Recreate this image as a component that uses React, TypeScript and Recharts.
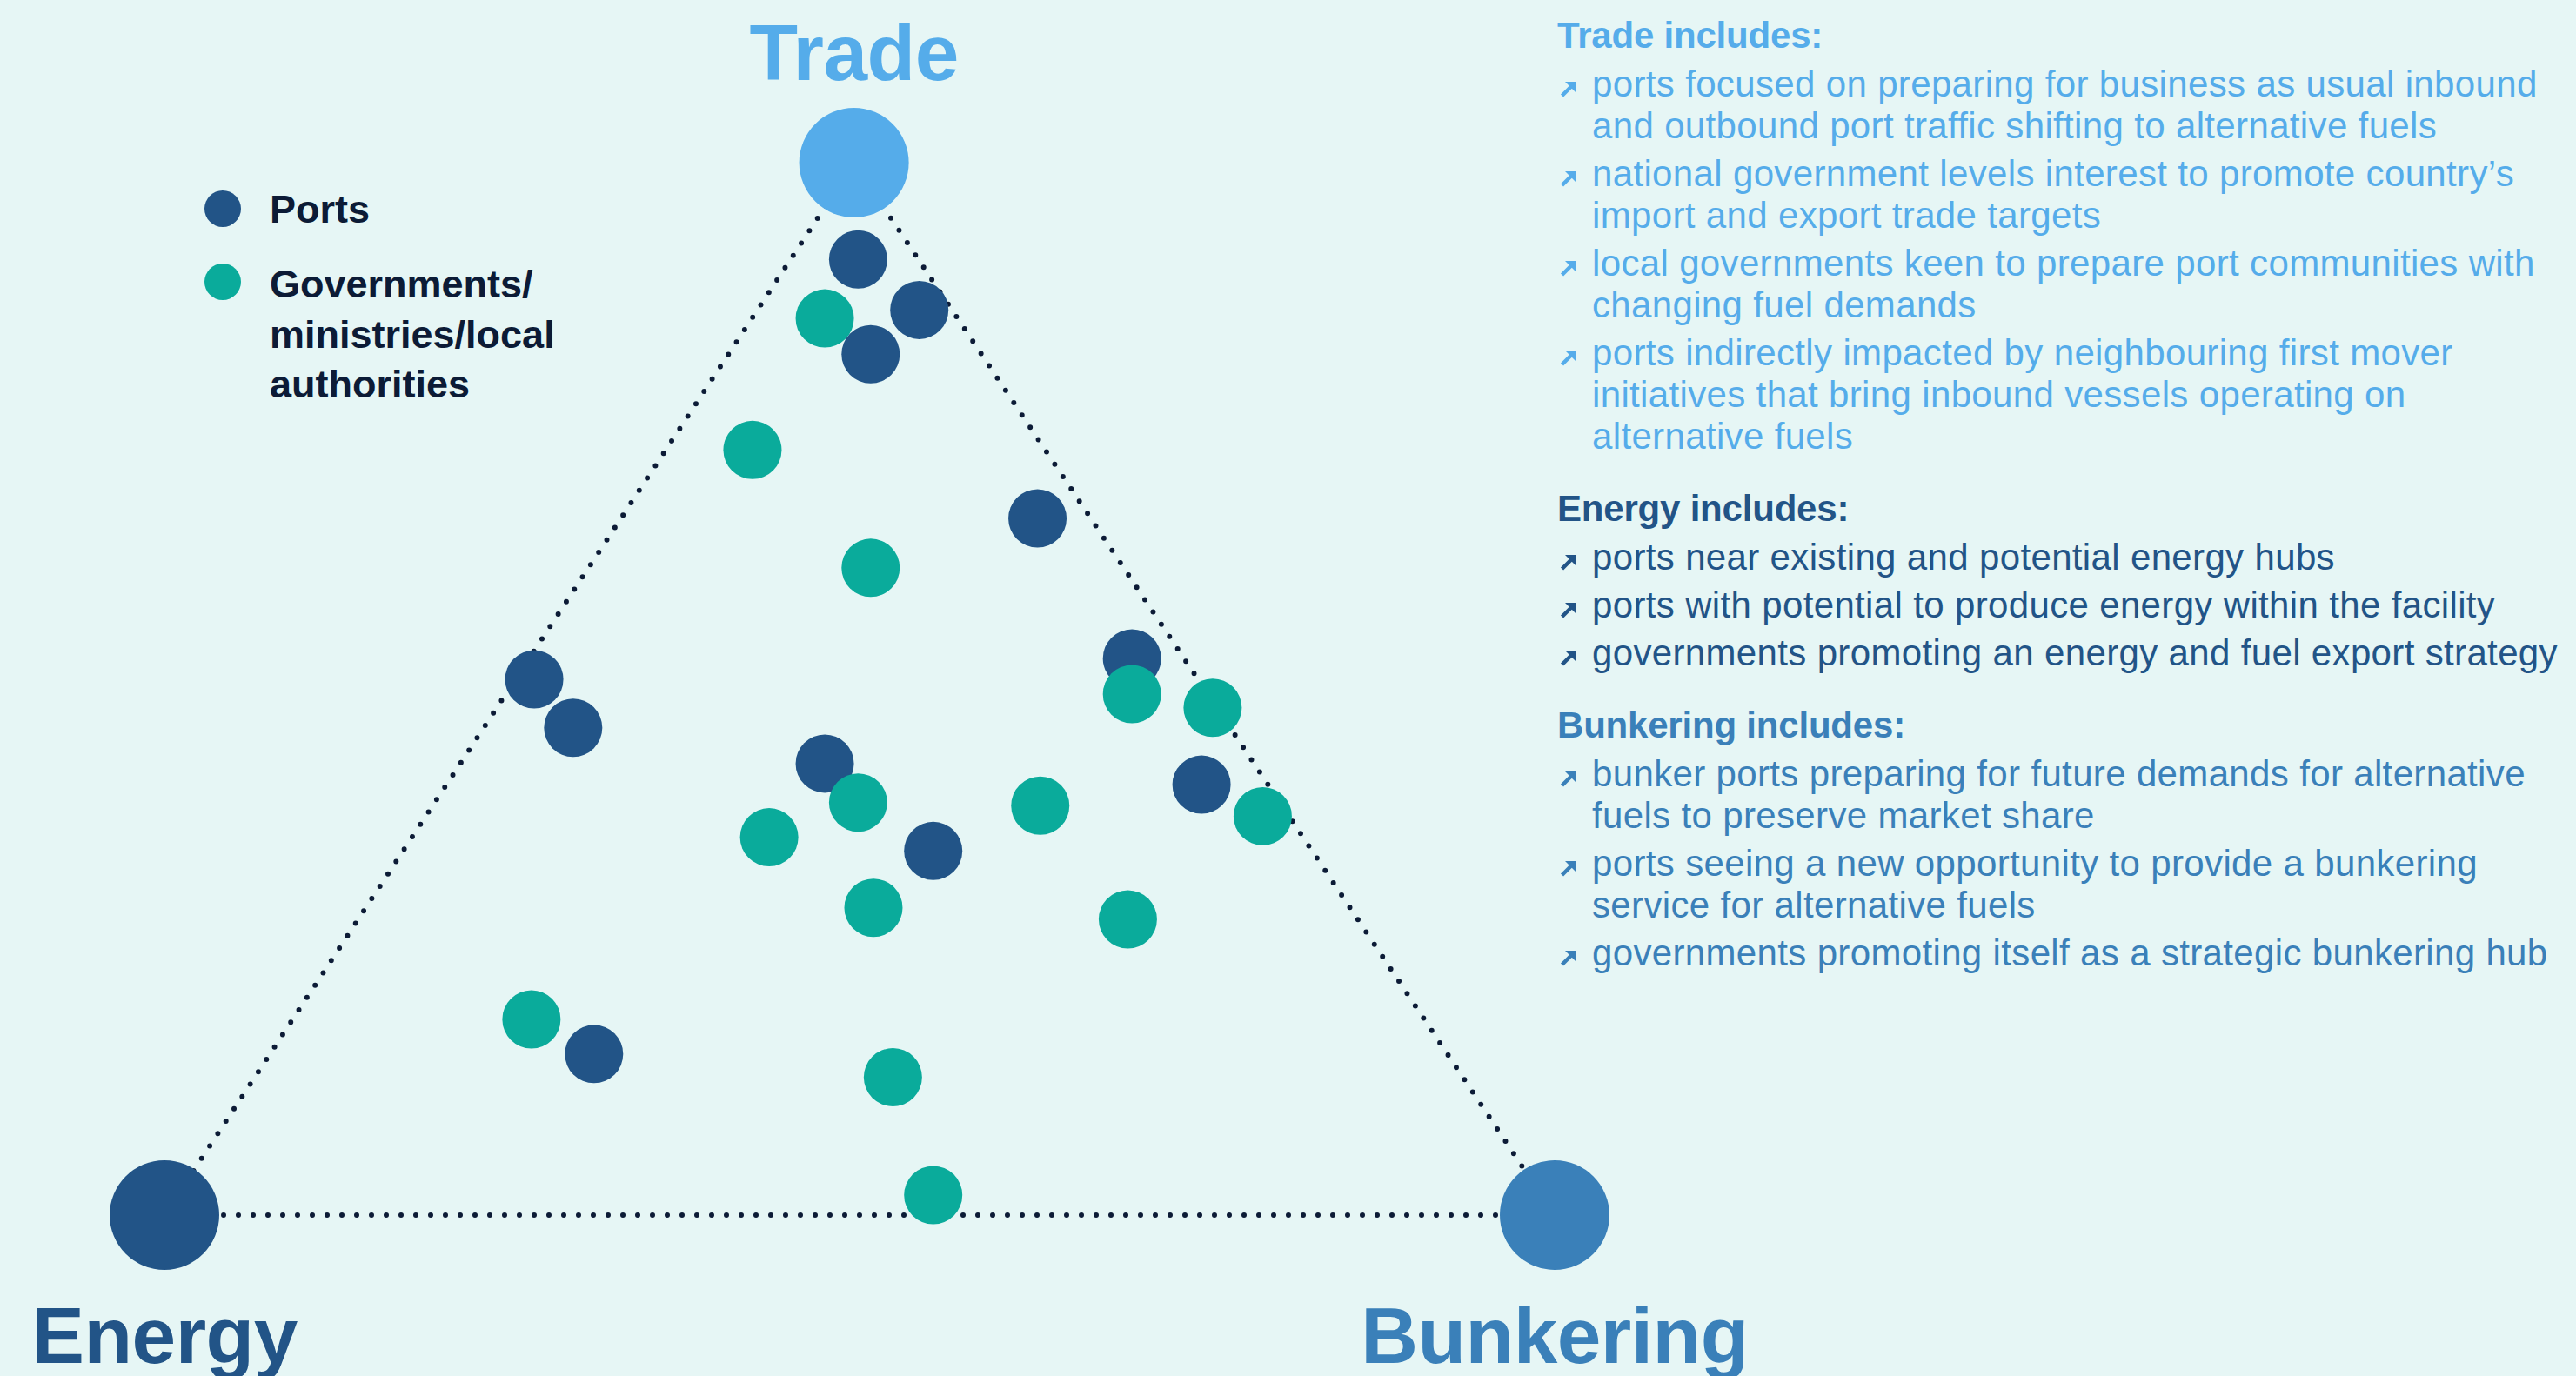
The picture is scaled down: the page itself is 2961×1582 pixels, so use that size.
import React from 'react';
import { ScatterChart, Scatter, XAxis, YAxis, Legend } from 'recharts';

// ---------- colours ----------
const BG = '#e6f6f5';
const NAVY = '#0c1b36';
const TRADE_BLUE = '#55acea';
const ENERGY_BLUE = '#225487';
const BUNKER_BLUE = '#3a80b9';
const TEAL = '#0aab9b';
const FONT = '"Liberation Sans", Arial, Helvetica, sans-serif';

// ---------- data ----------
// Triangle corners (x: Energy -> Bunkering, y: base -> Trade apex), 0..100 units
const vertexNames = ['Energy', 'Bunkering', 'Trade'];
const vertexX = [0, 100, 49.6];
const vertexY = [0, 0, 100];

const seriesNames = ['Ports', 'Governments/ministries/local authorities'];

const portsX = [49.9, 54.3, 50.8, 62.8, 69.6, 26.6, 29.4, 47.5, 74.6, 55.3, 30.9];
const portsY = [90.8, 86.0, 81.8, 66.2, 52.9, 50.9, 46.3, 42.9, 40.9, 34.6, 15.3];

const govX = [47.5, 42.3, 50.8, 69.6, 75.4, 49.9, 63.0, 43.5, 79.0, 51.0, 69.3, 26.4, 52.4, 55.3];
const govY = [85.2, 72.7, 61.5, 49.5, 48.2, 39.2, 38.9, 35.9, 37.9, 29.2, 28.1, 18.6, 13.1, 1.9];

const legendLines: Record<string, string[]> = {
  Ports: ['Ports'],
  'Governments/ministries/local authorities': ['Governments/', 'ministries/local', 'authorities'],
};

const sectionTitles = ['Trade includes:', 'Energy includes:', 'Bunkering includes:'];
const tradeItems = [
  ['ports focused on preparing for business as usual inbound', 'and outbound port traffic shifting to alternative fuels'],
  ['national government levels interest to promote country\u2019s', 'import and export trade targets'],
  ['local governments keen to prepare port communities with', 'changing fuel demands'],
  ['ports indirectly impacted by neighbouring first mover', 'initiatives that bring inbound vessels operating on', 'alternative fuels'],
];
const energyItems = [
  ['ports near existing and potential energy hubs'],
  ['ports with potential to produce energy within the facility'],
  ['governments promoting an energy and fuel export strategy'],
];
const bunkeringItems = [
  ['bunker ports preparing for future demands for alternative', 'fuels to preserve market share'],
  ['ports seeing a new opportunity to provide a bunkering', 'service for alternative fuels'],
  ['governments promoting itself as a strategic bunkering hub'],
];

// ---------- derived tables ----------
const vertices = vertexNames.map((name, i) => ({ name, x: vertexX[i], y: vertexY[i] }));
const edgePath = [...vertices, vertices[0]];
const ports = portsX.map((x, i) => ({ x, y: portsY[i] }));
const governments = govX.map((x, i) => ({ x, y: govY[i] }));

// ---------- styles ----------
const vertexStyle: Record<string, { color: string; dy: number }> = {
  Energy: { color: ENERGY_BLUE, dy: 170 },
  Bunkering: { color: BUNKER_BLUE, dy: 170 },
  Trade: { color: TRADE_BLUE, dy: -95 },
};
const sectionColors = [TRADE_BLUE, ENERGY_BLUE, BUNKER_BLUE];
const sectionItems = [tradeItems, energyItems, bunkeringItems];

const VertexShape = (props: any) => {
  const { cx, cy, payload } = props;
  const st = vertexStyle[payload.name];
  return (
    <g>
      <circle cx={cx} cy={cy} r={63} fill={st.color} />
      <text
        x={cx}
        y={cy + st.dy}
        textAnchor="middle"
        fill={st.color}
        fontSize={91}
        fontWeight={700}
        fontFamily={FONT}
        letterSpacing={-0.5}
      >
        {payload.name}
      </text>
    </g>
  );
};

const makeDot = (color: string) => (props: any) => (
  <circle cx={props.cx} cy={props.cy} r={33.5} fill={color} />
);

const EmptyShape = () => <g />;

const renderLegend = (props: any) => {
  const payload = (props.payload || [])
    .filter((p: any) => legendLines[p.value])
    .sort((a: any, b: any) => seriesNames.indexOf(a.value) - seriesNames.indexOf(b.value));
  const tops = [212, 298];
  return (
    <div style={{ position: 'relative', width: 700, height: 500 }}>
      {payload.map((entry: any, i: number) => (
        <div key={entry.value} style={{ position: 'absolute', left: 0, top: tops[i] }}>
          <div
            style={{
              position: 'absolute',
              left: 235,
              top: i === 0 ? 7 : 5,
              width: 42,
              height: 42,
              borderRadius: 21,
              background: entry.color,
            }}
          />
          <div
            style={{
              position: 'absolute',
              left: 310,
              top: 0,
              fontFamily: FONT,
              fontWeight: 700,
              fontSize: 45,
              lineHeight: '57.5px',
              color: NAVY,
              whiteSpace: 'nowrap',
            }}
          >
            {legendLines[entry.value].map((l) => (
              <div key={l}>{l}</div>
            ))}
          </div>
        </div>
      ))}
    </div>
  );
};

const Arrow = ({ color }: { color: string }) => (
  <svg width={19} height={19} viewBox="0 0 19 19" style={{ position: 'absolute', left: 3, top: 20 }}>
    <line x1={2.5} y1={17} x2={13} y2={6.5} stroke={color} strokeWidth={4.5} />
    <polygon points="6,1 18,1 18,13" fill={color} />
  </svg>
);

const TextPanel = () => (
  <div style={{ position: 'absolute', left: 1790, top: 17, width: 1170, fontFamily: FONT }}>
    {sectionTitles.map((title, s) => (
      <div key={title} style={{ marginTop: s === 0 ? 0 : 35, color: sectionColors[s] }}>
        <div style={{ fontSize: 42, fontWeight: 700, lineHeight: '48px', height: 48, marginBottom: 8, whiteSpace: 'nowrap', letterSpacing: -0.2 }}>
          {title}
        </div>
        {sectionItems[s].map((lines, i) => (
          <div key={i} style={{ position: 'relative', marginTop: i === 0 ? 0 : 7 }}>
            <Arrow color={sectionColors[s]} />
            {lines.map((l, k) => (
              <div
                key={k}
                style={{ marginLeft: 40, fontSize: 42, letterSpacing: 0.35, lineHeight: '48px', height: 48, whiteSpace: 'nowrap' }}
              >
                {l}
              </div>
            ))}
          </div>
        ))}
      </div>
    ))}
  </div>
);

export default function App() {
  return (
    <div
      style={{
        position: 'absolute',
        left: 0,
        top: 0,
        width: 2961,
        height: 1582,
        background: BG,
        overflow: 'hidden',
      }}
    >
      <ScatterChart width={2961} height={1582} margin={{ top: 187, right: 1174, bottom: 185, left: 189 }}>
        <XAxis type="number" dataKey="x" domain={[0, 100]} hide />
        <YAxis type="number" dataKey="y" domain={[0, 100]} hide />
        <Scatter
          name="edges"
          data={edgePath}
          legendType="none"
          fill={NAVY}
          line={{ stroke: NAVY, strokeWidth: 6, strokeDasharray: '0 17', strokeLinecap: 'round' }}
          shape={EmptyShape}
          isAnimationActive={false}
        />
        <Scatter
          name="vertices"
          data={vertices}
          legendType="none"
          shape={VertexShape}
          isAnimationActive={false}
        />
        <Scatter
          name={seriesNames[0]}
          data={ports}
          fill={ENERGY_BLUE}
          shape={makeDot(ENERGY_BLUE)}
          isAnimationActive={false}
        />
        <Scatter
          name={seriesNames[1]}
          data={governments}
          fill={TEAL}
          shape={makeDot(TEAL)}
          isAnimationActive={false}
        />
        <Legend
          layout="vertical"
          align="center"
          verticalAlign="middle"
          wrapperStyle={{ left: 0, top: 0, width: 700, height: 500 }}
          content={renderLegend}
        />
      </ScatterChart>
      <TextPanel />
    </div>
  );
}
